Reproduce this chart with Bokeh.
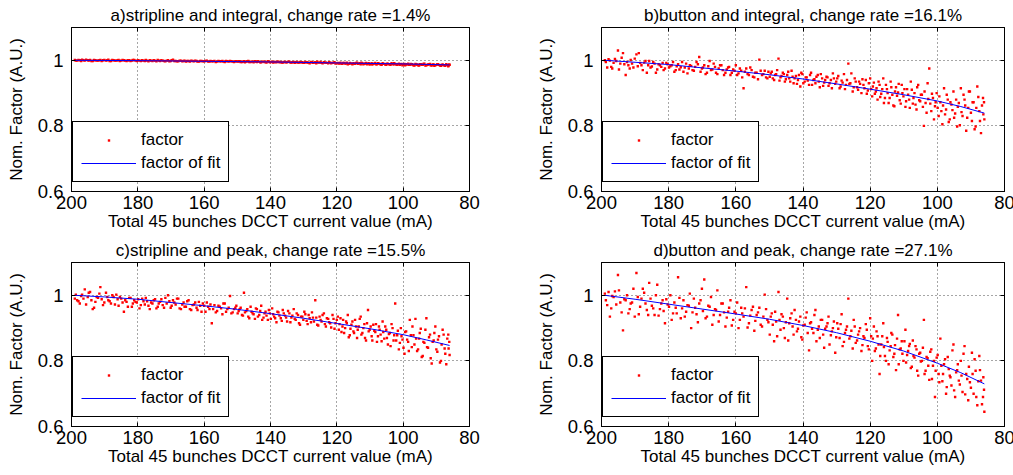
from bokeh.plotting import figure
from bokeh.models import Range1d, FixedTicker, Legend, LegendItem, LinearAxis
from bokeh.layouts import column, row
from bokeh.embed import file_html
from bokeh.resources import INLINE

FONT = "Liberation Sans"

# Total 45 bunches DCCT current (mA), shared by all four panels (two sweeps)
current = [
    199.0, 198.3, 197.5, 196.8, 196.0, 195.1, 194.4, 193.6, 192.8, 192.0,
    191.3, 190.5, 189.6, 188.9, 188.1, 187.3, 186.5, 185.8, 185.0, 184.2,
    183.4, 182.6, 181.8, 181.1, 180.3, 179.5, 178.7, 177.9, 177.2, 176.4,
    175.6, 174.8, 174.0, 173.3, 172.5, 171.7, 170.9, 170.1, 169.4, 168.6,
    167.8, 167.0, 166.2, 165.5, 164.7, 163.9, 163.1, 162.3, 161.6, 160.8,
    160.0, 159.2, 158.4, 157.7, 156.9, 156.1, 155.3, 154.5, 153.8, 153.0,
    152.2, 151.4, 150.6,
    149.9, 149.3, 148.6, 148.0, 147.3, 146.7, 146.0, 145.4, 144.7, 144.1,
    143.4, 142.8, 142.1, 141.5, 140.8, 140.2, 139.5, 138.9, 138.2, 137.6,
    136.9, 136.3, 135.6, 135.0, 134.3, 133.7, 133.0, 132.4, 131.7, 131.1,
    130.4, 129.8, 129.1, 128.5, 127.8, 127.2, 126.5, 125.9, 125.2, 124.6,
    123.9, 123.3, 122.6, 122.0, 121.3, 120.7, 120.0,
    119.4, 118.9, 118.3, 117.8, 117.2, 116.7, 116.1, 115.6, 115.0, 114.5,
    113.9, 113.4, 112.8, 112.3, 111.7, 111.2, 110.6, 110.1, 109.5, 109.0,
    108.4, 107.9, 107.3, 106.8, 106.2, 105.7, 105.1, 104.6, 104.0, 103.5,
    102.9, 102.4, 101.8, 101.3, 100.7, 100.2, 99.6, 99.1, 98.5, 98.0,
    97.4, 96.9, 96.3, 95.8, 95.2, 94.7, 94.1, 93.6, 93.0, 92.5,
    91.9, 91.4, 90.8, 90.3, 89.7, 89.2, 88.6, 88.1, 87.5, 87.0,
    86.4, 86.0,
]
current_2 = [
    198.7, 197.9, 197.1, 196.4, 195.6, 194.8, 194.0, 193.2, 192.4, 191.6,
    190.9, 190.1, 189.2, 188.5, 187.7, 186.9, 186.1, 185.4, 184.6, 183.8,
    183.0, 182.2, 181.5, 180.7, 179.9, 179.1, 178.3, 177.6, 176.8, 176.0,
    175.2, 174.4, 173.7, 172.9, 172.1, 171.3, 170.5, 169.8, 169.0, 168.2,
    167.4, 166.6, 165.9, 165.1, 164.3, 163.5, 162.7, 162.0, 161.2, 160.4,
    159.6, 158.8, 158.1, 157.3, 156.5, 155.7, 154.9, 154.2, 153.4, 152.6,
    151.8, 151.0, 150.3,
    149.6, 149.0, 148.3, 147.7, 147.0, 146.4, 145.7, 145.1, 144.4, 143.8,
    143.1, 142.5, 141.8, 141.2, 140.5, 139.9, 139.2, 138.6, 137.9, 137.3,
    136.6, 136.0, 135.3, 134.7, 134.0, 133.4, 132.7, 132.1, 131.4, 130.8,
    130.1, 129.5, 128.8, 128.2, 127.5, 126.9, 126.2, 125.6, 124.9, 124.3,
    123.6, 123.0, 122.3, 121.7, 121.0, 120.4, 119.7,
    119.2, 118.6, 118.1, 117.5, 117.0, 116.4, 115.9, 115.3, 114.8, 114.2,
    113.7, 113.1, 112.6, 112.0, 111.5, 110.9, 110.4, 109.8, 109.3, 108.7,
    108.2, 107.6, 107.1, 106.5, 106.0, 105.4, 104.9, 104.3, 103.8, 103.2,
    102.7, 102.1, 101.6, 101.0, 100.5, 99.9, 99.4, 98.8, 98.3, 97.7,
    97.2, 96.6, 96.1, 95.5, 95.0, 94.4, 93.9, 93.3, 92.8, 92.2,
    91.7, 91.1, 90.6, 90.0, 89.5, 88.9, 88.4, 87.8, 87.3, 86.7,
    86.3, 86.1,
]

factor_a = [
    1.001, 0.999, 1.000, 1.002, 0.999, 1.000, 1.001, 0.998, 1.000, 0.999,
    1.001, 1.000, 0.999, 1.002, 0.998, 1.000, 0.999, 1.001, 0.999, 1.000,
    0.998, 1.000, 0.999, 1.001, 0.998, 0.999, 1.000, 0.998, 0.999, 1.000,
    0.998, 0.999, 1.001, 0.998, 0.999, 0.997, 1.000, 0.998, 1.002, 0.998,
    0.997, 0.999, 0.998, 0.996, 0.998, 0.999, 0.997, 0.998, 0.996, 0.998,
    0.997, 0.999, 0.996, 0.997, 0.998, 0.996, 0.997, 0.998, 0.995, 0.997,
    0.998, 0.996, 0.997,
    0.996, 0.997, 0.995, 0.997, 0.996, 0.998, 0.995, 0.996, 0.997, 0.995,
    0.996, 0.994, 0.996, 0.995, 0.997, 0.994, 0.996, 0.995, 0.994, 0.996,
    0.995, 0.993, 0.995, 0.994, 0.996, 0.993, 0.995, 0.994, 0.993, 0.995,
    0.994, 0.992, 0.994, 0.993, 0.995, 0.992, 0.994, 0.996, 0.993, 0.992,
    0.994, 0.993, 0.991, 0.993, 0.992, 0.994, 0.991,
    0.990, 0.993, 0.989, 0.992, 0.990, 0.988, 0.992, 0.990, 0.991, 0.989,
    0.993, 0.990, 0.988, 0.991, 0.989, 0.992, 0.990, 0.987, 0.991, 0.989,
    0.992, 0.988, 0.990, 0.987, 0.991, 0.989, 0.986, 0.990, 0.988, 0.991,
    0.987, 0.989, 0.986, 0.990, 0.988, 0.985, 0.989, 0.987, 0.990, 0.986,
    0.988, 0.985, 0.989, 0.987, 0.984, 0.988, 0.986, 0.990, 0.985, 0.987,
    0.989, 0.984, 0.987, 0.985, 0.988, 0.986, 0.983, 0.987, 0.985, 0.988,
    0.982, 0.986,
]
factor_a_2 = [
    0.999, 1.001, 0.998, 1.000, 1.002, 0.999, 0.998, 1.001, 0.999, 1.000,
    0.998, 1.001, 1.000, 0.998, 1.001, 0.999, 1.000, 0.998, 1.001, 0.999,
    1.000, 0.998, 1.001, 0.999, 1.000, 0.998, 0.999, 1.001, 0.997, 0.999,
    1.000, 0.997, 0.999, 1.000, 0.998, 0.999, 0.997, 1.000, 0.998, 0.997,
    0.999, 0.997, 0.999, 0.998, 0.996, 0.998, 0.999, 0.996, 0.998, 0.997,
    0.998, 0.996, 0.998, 0.997, 0.995, 0.998, 0.997, 0.996, 0.998, 0.996,
    0.997, 0.995, 0.997,
    0.997, 0.995, 0.996, 0.994, 0.997, 0.995, 0.996, 0.994, 0.996, 0.997,
    0.994, 0.996, 0.995, 0.993, 0.996, 0.995, 0.993, 0.995, 0.996, 0.994,
    0.993, 0.995, 0.994, 0.996, 0.993, 0.994, 0.992, 0.995, 0.993, 0.994,
    0.992, 0.995, 0.993, 0.991, 0.994, 0.993, 0.991, 0.993, 0.995, 0.991,
    0.993, 0.992, 0.994, 0.991, 0.993, 0.990, 0.992,
    0.991, 0.989, 0.992, 0.990, 0.993, 0.989, 0.991, 0.988, 0.990, 0.992,
    0.989, 0.991, 0.993, 0.988, 0.990, 0.988, 0.991, 0.989, 0.987, 0.990,
    0.988, 0.991, 0.989, 0.986, 0.989, 0.987, 0.990, 0.988, 0.986, 0.989,
    0.991, 0.987, 0.988, 0.986, 0.989, 0.987, 0.985, 0.988, 0.986, 0.989,
    0.987, 0.984, 0.987, 0.985, 0.988, 0.986, 0.989, 0.984, 0.986, 0.988,
    0.985, 0.987, 0.983, 0.986, 0.988, 0.984, 0.986, 0.985, 0.983, 0.986,
    0.984, 0.987,
]

factor_b = [
    1.000, 0.978, 0.999, 0.975, 1.004, 1.030, 0.990, 1.022, 0.955, 0.985,
    1.001, 0.978, 1.018, 1.022, 0.985, 0.993, 0.962, 0.998, 0.981, 0.990,
    0.972, 0.985, 0.992, 0.975, 0.988, 0.982, 0.995, 0.970, 0.988, 0.979,
    0.965, 0.990, 0.975, 0.983, 0.968, 0.995, 1.010, 0.975, 0.985, 0.962,
    0.998, 0.972, 0.980, 0.958, 0.985, 0.970, 0.962, 0.978, 0.955, 0.972,
    0.985, 0.960, 0.968, 0.915, 0.975, 0.955, 0.970, 0.948, 0.962, 1.002,
    0.955, 0.968, 0.945,
    0.950, 0.965, 0.940, 0.958, 1.005, 0.948, 0.962, 0.935, 0.955, 0.945,
    0.968, 0.930, 0.952, 0.940, 0.920, 0.958, 0.935, 0.948, 0.925, 0.962,
    0.940, 0.930, 0.955, 0.918, 0.945, 0.932, 0.950, 0.922, 0.940, 0.960,
    0.928, 0.945, 0.915, 0.938, 0.958, 0.925, 0.990, 0.930, 0.905, 0.945,
    0.918, 0.935, 0.900, 0.925, 0.940, 0.908, 0.945,
    0.890, 0.932, 0.905, 0.880, 0.925, 0.898, 0.945, 0.885, 0.912, 0.870,
    0.935, 0.895, 0.860, 0.918, 0.902, 0.878, 0.925, 0.890, 0.858, 0.912,
    0.880, 0.935, 0.868, 0.900, 0.850, 0.925, 0.875, 0.895, 0.800, 0.870,
    0.930, 0.975, 0.845, 0.885, 0.860, 0.900, 0.830, 0.872, 0.805, 0.915,
    0.850, 0.880, 0.820, 0.865, 0.905, 0.838, 0.798, 0.870, 0.915, 0.830,
    0.880, 0.785, 0.855, 0.905, 0.815, 0.872, 0.798, 0.920, 0.845, 0.778,
    0.885, 0.820,
]
factor_b_2 = [
    0.995, 1.003, 0.980, 0.992, 0.998, 0.972, 1.008, 0.988, 0.995, 0.975,
    0.990, 1.005, 0.982, 0.992, 0.970, 0.998, 0.985, 0.978, 0.995, 0.962,
    0.988, 0.980, 0.970, 0.992, 0.978, 0.985, 0.965, 0.982, 0.972, 0.995,
    0.978, 0.960, 0.985, 0.970, 0.980, 0.988, 0.965, 0.978, 0.958, 0.982,
    0.970, 0.990, 0.962, 0.975, 0.985, 0.955, 0.972, 0.980, 0.962, 0.968,
    0.955, 0.975, 0.948, 0.965, 0.958, 0.978, 0.950, 0.962, 0.942, 0.968,
    0.958, 0.948, 0.965,
    0.960, 0.945, 0.955, 0.970, 0.938, 0.952, 0.958, 0.942, 0.965, 0.935,
    0.950, 0.945, 0.928, 0.955, 0.962, 0.930, 0.948, 0.938, 0.955, 0.925,
    0.942, 0.950, 0.935, 0.958, 0.922, 0.940, 0.948, 0.930, 0.915, 0.945,
    0.935, 0.952, 0.920, 0.932, 0.912, 0.940, 0.928, 0.960, 0.918, 0.935,
    0.910, 0.928, 0.942, 0.915, 0.898, 0.930, 0.912,
    0.920, 0.898, 0.915, 0.935, 0.888, 0.912, 0.870, 0.925, 0.900, 0.885,
    0.918, 0.862, 0.905, 0.892, 0.928, 0.868, 0.900, 0.912, 0.875, 0.895,
    0.855, 0.910, 0.885, 0.865, 0.918, 0.878, 0.895, 0.858, 0.905, 0.840,
    0.882, 0.868, 0.898, 0.820, 0.872, 0.855, 0.890, 0.845, 0.862, 0.835,
    0.895, 0.812, 0.872, 0.848, 0.825, 0.880, 0.858, 0.802, 0.842, 0.895,
    0.862, 0.825, 0.905, 0.840, 0.872, 0.790, 0.855, 0.888, 0.815, 0.862,
    0.835, 0.872,
]

factor_c = [
    0.990, 0.985, 0.975, 1.002, 1.018, 0.995, 1.010, 0.958, 0.980, 0.992,
    1.025, 0.970, 1.008, 0.985, 0.975, 0.995, 1.002, 0.968, 0.990, 0.950,
    0.980, 0.992, 0.965, 0.985, 0.978, 0.960, 0.990, 0.972, 0.982, 0.958,
    0.975, 0.988, 0.965, 0.980, 0.970, 0.992, 1.000, 0.962, 0.985, 0.972,
    0.990, 0.958, 0.978, 0.965, 0.985, 0.955, 0.972, 0.962, 0.980, 0.950,
    0.968, 0.978, 0.958, 0.915, 0.970, 0.952, 0.965, 0.942, 0.975, 0.958,
    0.998, 0.948, 0.962,
    0.945, 0.958, 0.940, 1.008, 0.952, 0.935, 0.965, 0.945, 0.928, 0.958,
    0.940, 0.968, 0.932, 0.950, 0.925, 0.945, 0.960, 0.935, 0.918, 0.948,
    0.930, 0.955, 0.938, 0.920, 0.945, 0.932, 0.958, 0.925, 0.940, 0.910,
    0.935, 0.950, 0.922, 0.940, 0.918, 0.932, 0.985, 0.910, 0.935, 0.920,
    0.945, 0.905, 0.928, 0.915, 0.940, 0.898, 0.925,
    0.895, 0.930, 0.905, 0.885, 0.920, 0.940, 0.878, 0.910, 0.890, 0.925,
    0.870, 0.905, 0.935, 0.885, 0.912, 0.862, 0.955, 0.895, 0.875, 0.910,
    0.888, 0.858, 0.905, 0.880, 0.920, 0.868, 0.895, 0.850, 0.885, 0.912,
    0.862, 0.975, 0.878, 0.835, 0.900, 0.865, 0.822, 0.890, 0.858, 0.925,
    0.842, 0.878, 0.928, 0.830, 0.868, 0.898, 0.815, 0.855, 0.930, 0.840,
    0.880, 0.792, 0.862, 0.905, 0.828, 0.875, 0.800, 0.895, 0.838, 0.790,
    0.880, 0.818,
]
factor_c_2 = [
    1.002, 0.982, 0.998, 0.990, 0.972, 1.008, 0.985, 0.962, 0.995, 1.005,
    0.988, 0.978, 0.995, 0.982, 1.000, 0.972, 0.988, 0.995, 0.978, 0.985,
    0.965, 0.992, 0.975, 0.980, 0.988, 0.970, 0.982, 0.992, 0.968, 0.978,
    0.985, 0.960, 0.975, 0.988, 0.962, 0.975, 0.982, 0.968, 0.978, 0.990,
    0.960, 0.972, 0.965, 0.982, 0.958, 0.970, 0.978, 0.955, 0.968, 0.975,
    0.950, 0.965, 0.972, 0.958, 0.948, 0.968, 0.960, 0.975, 0.950, 0.962,
    0.945, 0.958, 0.968,
    0.952, 0.962, 0.938, 0.948, 0.958, 0.930, 0.950, 0.942, 0.960, 0.935,
    0.952, 0.925, 0.945, 0.938, 0.955, 0.928, 0.942, 0.930, 0.950, 0.938,
    0.922, 0.945, 0.932, 0.952, 0.918, 0.938, 0.928, 0.945, 0.915, 0.935,
    0.925, 0.942, 0.912, 0.930, 0.948, 0.920, 0.932, 0.908, 0.925, 0.940,
    0.912, 0.930, 0.918, 0.902, 0.928, 0.915, 0.935,
    0.912, 0.888, 0.925, 0.900, 0.915, 0.872, 0.898, 0.920, 0.885, 0.905,
    0.895, 0.928, 0.880, 0.900, 0.870, 0.915, 0.890, 0.905, 0.862, 0.892,
    0.912, 0.875, 0.895, 0.860, 0.888, 0.905, 0.870, 0.882, 0.845, 0.900,
    0.878, 0.862, 0.892, 0.855, 0.875, 0.840, 0.888, 0.865, 0.830, 0.878,
    0.905, 0.850, 0.868, 0.835, 0.885, 0.812, 0.858, 0.895, 0.842, 0.872,
    0.808, 0.858, 0.885, 0.835, 0.865, 0.795, 0.850, 0.880, 0.822, 0.868,
    0.838, 0.858,
]

factor_d = [
    1.005, 0.970, 0.935, 0.998, 1.012, 1.062, 0.978, 0.893, 0.985, 0.945,
    0.975, 1.020, 1.068, 0.942, 0.990, 1.008, 0.955, 1.038, 0.968, 0.940,
    1.032, 0.958, 0.985, 0.915, 0.972, 1.000, 0.945, 0.962, 1.055, 0.930,
    0.985, 0.950, 0.968, 0.900, 0.990, 0.942, 0.975, 1.020, 1.048, 0.935,
    0.965, 0.910, 0.958, 1.015, 0.940, 0.975, 0.905, 0.950, 0.985, 0.925,
    0.945, 0.900, 0.962, 0.935, 1.025, 0.915, 0.955, 0.892, 0.940, 0.962,
    0.905, 1.002, 0.925,
    0.880, 0.945, 0.860, 0.920, 1.010, 0.895, 0.935, 0.870, 0.990, 0.915,
    0.945, 0.880, 0.925, 0.898, 0.935, 0.865, 0.910, 0.948, 0.832, 0.918,
    0.885, 0.955, 0.895, 0.870, 0.925, 0.840, 0.905, 0.935, 0.878, 0.900,
    0.825, 0.915, 0.870, 0.942, 0.858, 0.895, 0.990, 0.875, 0.838, 0.905,
    0.862, 0.890, 0.830, 0.875, 0.912, 0.845, 0.930,
    0.800, 0.905, 0.838, 0.875, 0.760, 0.850, 0.915, 0.815, 0.870, 0.790,
    0.845, 0.880, 0.822, 0.772, 0.940, 0.835, 0.860, 0.800, 0.895, 0.818,
    0.845, 0.778, 0.862, 0.810, 0.835, 0.755, 0.825, 0.800, 0.925, 0.770,
    0.808, 0.742, 0.835, 0.785, 0.690, 0.810, 0.760, 0.868, 0.738, 0.790,
    0.700, 0.812, 0.755, 0.725, 0.850, 0.690, 0.772, 0.740, 0.800, 0.705,
    0.845, 0.760, 0.680, 0.735, 0.825, 0.700, 0.770, 0.665, 0.815, 0.740,
    0.690, 0.645,
]
factor_d_2 = [
    0.985, 1.010, 0.960, 0.995, 0.972, 1.015, 0.948, 0.988, 1.000, 0.958,
    0.978, 0.935, 0.995, 0.965, 1.020, 0.975, 0.940, 0.990, 0.960, 1.000,
    0.938, 0.975, 0.952, 0.988, 0.965, 0.925, 0.978, 0.945, 0.992, 0.960,
    0.935, 0.970, 1.005, 0.948, 0.962, 0.918, 0.985, 0.952, 0.930, 0.968,
    0.995, 0.940, 0.955, 0.920, 0.975, 0.948, 0.932, 0.962, 0.908, 0.950,
    0.978, 0.925, 0.945, 0.960, 0.902, 0.938, 0.965, 0.922, 0.948, 0.910,
    0.935, 0.958, 0.918,
    0.935, 0.910, 0.950, 0.875, 0.925, 0.942, 0.900, 0.918, 0.862, 0.930,
    0.905, 0.955, 0.890, 0.920, 0.872, 0.908, 0.932, 0.885, 0.915, 0.898,
    0.940, 0.860, 0.905, 0.925, 0.880, 0.898, 0.915, 0.850, 0.890, 0.920,
    0.872, 0.898, 0.912, 0.845, 0.885, 0.905, 0.868, 0.892, 0.925, 0.855,
    0.880, 0.900, 0.848, 0.870, 0.895, 0.835, 0.875,
    0.868, 0.830, 0.890, 0.850, 0.815, 0.875, 0.842, 0.800, 0.858, 0.832,
    0.885, 0.812, 0.848, 0.868, 0.790, 0.838, 0.822, 0.860, 0.795, 0.830,
    0.852, 0.782, 0.815, 0.845, 0.770, 0.822, 0.798, 0.840, 0.760, 0.812,
    0.785, 0.828, 0.745, 0.800, 0.770, 0.818, 0.735, 0.785, 0.760, 0.805,
    0.720, 0.775, 0.750, 0.832, 0.710, 0.765, 0.790, 0.728, 0.755, 0.822,
    0.698, 0.745, 0.782, 0.718, 0.760, 0.805, 0.690, 0.738, 0.772, 0.668,
    0.750, 0.712,
]

# fitted curves
fit_current = [199, 190, 180, 170, 160, 150, 140, 130, 120, 110, 100, 93, 86]
fit_a = [1.000, 0.9995, 0.999, 0.998, 0.997, 0.996, 0.995, 0.9935, 0.992, 0.9905, 0.989, 0.9875, 0.986]
fit_b = [1.000, 0.994, 0.987, 0.977, 0.967, 0.956, 0.943, 0.928, 0.912, 0.895, 0.876, 0.859, 0.839]
fit_c = [1.000, 0.995, 0.988, 0.978, 0.968, 0.957, 0.944, 0.930, 0.914, 0.898, 0.880, 0.864, 0.847]
fit_d = [1.000, 0.988, 0.973, 0.958, 0.943, 0.927, 0.908, 0.886, 0.860, 0.830, 0.793, 0.764, 0.730]

titles = [
    "a)stripline and integral, change rate =1.4%",
    "b)button and integral, change rate =16.1%",
    "c)stripline and peak, change rate =15.5%",
    "d)button and peak, change rate =27.1%",
]
x_ticks = [80, 100, 120, 140, 160, 180, 200]
y_ticks = [0.6, 0.8, 1.0]


def box_axis(ticks):
    # MATLAB-style box ticks on the top / right edges, without labels
    ax = LinearAxis(ticker=FixedTicker(ticks=ticks))
    ax.major_label_overrides = {t: "" for t in ticks}
    ax.major_label_text_font_size = "0px"
    ax.major_label_standoff = 0
    ax.major_tick_in = 4
    ax.major_tick_out = 0
    ax.minor_tick_in = 0
    ax.minor_tick_out = 0
    ax.axis_line_color = "black"
    ax.major_tick_line_color = "black"
    return ax


def panel(title, yvals, fitvals, frame_w, b_left, b_right, b_top, b_bottom):
    p = figure(
        frame_width=frame_w, frame_height=164,
        x_range=Range1d(200, 80), y_range=Range1d(0.6, 1.1),
        output_backend="svg", toolbar_location=None,
        min_border_left=b_left, min_border_right=b_right,
        min_border_top=b_top, min_border_bottom=b_bottom,
        background_fill_color="white", border_fill_color="white",
    )
    p.title.text = title
    p.title.align = "center"
    p.title.text_font = FONT
    p.title.text_font_size = "17px"
    p.title.text_font_style = "normal"
    p.title.text_color = "black"
    p.title.standoff = 6
    p.outline_line_color = "black"
    p.outline_line_alpha = 1.0

    for ax in (p.xaxis[0], p.yaxis[0]):
        ax.major_tick_in = 4
        ax.major_tick_out = 0
        ax.minor_tick_in = 0
        ax.minor_tick_out = 0
        ax.axis_line_color = "black"
        ax.major_tick_line_color = "black"
        ax.major_label_text_font = FONT
        ax.major_label_text_font_size = "18.5px"
        ax.major_label_text_color = "black"
        ax.axis_label_text_font = FONT
        ax.axis_label_text_font_size = "17px"
        ax.axis_label_text_font_style = "normal"
        ax.axis_label_text_color = "black"
    p.xaxis.ticker = FixedTicker(ticks=x_ticks)
    p.yaxis.ticker = FixedTicker(ticks=y_ticks)
    p.yaxis.major_label_overrides = {1: "1", 0.8: "0.8", 0.6: "0.6"}
    p.xaxis.axis_label = "Total 45 bunches DCCT current value (mA)"
    p.yaxis.axis_label = "Nom. Factor (A.U.)"
    p.xaxis.major_label_standoff = 4
    p.xaxis.axis_label_standoff = 0
    p.yaxis.major_label_standoff = 8
    p.yaxis.axis_label_standoff = 9

    p.add_layout(box_axis(x_ticks), "above")
    p.add_layout(box_axis(y_ticks), "right")

    p.xgrid.ticker = FixedTicker(ticks=x_ticks)
    p.ygrid.ticker = FixedTicker(ticks=y_ticks)
    for g in (p.xgrid[0], p.ygrid[0]):
        g.grid_line_color = "black"
        g.grid_line_alpha = 0.7
        g.grid_line_dash = "1 3"
        g.grid_line_width = 1

    r1 = p.scatter(current + current_2, yvals, size=2.4, marker="square",
                   fill_color="#ff0000", line_color="#ff0000", line_width=0)
    r2 = p.line(fit_current, fitvals, line_color="#0000ff", line_width=1)

    legend = Legend(
        items=[LegendItem(label="factor", renderers=[r1]),
               LegendItem(label="factor of fit", renderers=[r2])],
        location=(1, 9),
        label_text_font=FONT, label_text_font_size="17px",
        label_text_color="black",
        border_line_color="black", border_line_width=1, border_line_alpha=1,
        background_fill_color="white", background_fill_alpha=1,
        padding=8, spacing=3, margin=0,
        glyph_width=55, glyph_height=6, label_height=20,
        label_standoff=5,
    )
    p.add_layout(legend)
    return p


pa = panel(titles[0], factor_a + factor_a_2, fit_a, 398, 71, 64, 27, 44)
pb = panel(titles[1], factor_b + factor_b_2, fit_b, 403, 64, 12, 27, 44)
pc = panel(titles[2], factor_c + factor_c_2, fit_c, 398, 71, 64, 27, 40)
pd = panel(titles[3], factor_d + factor_d_2, fit_d, 403, 64, 12, 27, 40)

layout = column(row(pa, pb), row(pc, pd))

open("out.html", "w").write(file_html(layout, INLINE))
